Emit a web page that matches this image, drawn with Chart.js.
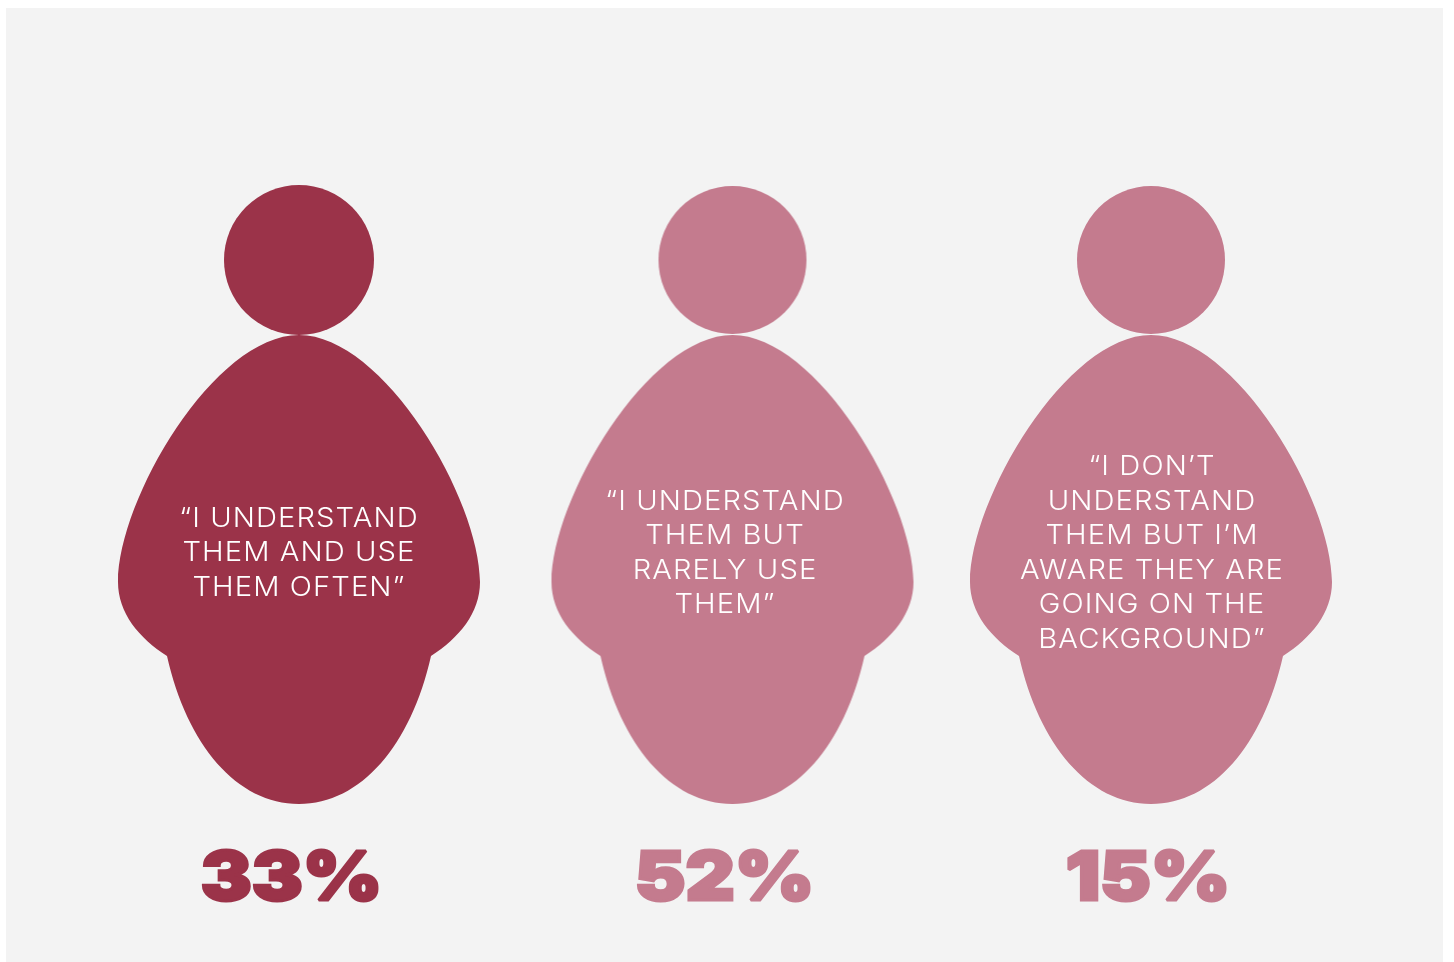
<!DOCTYPE html>
<html lang="en">
<head>
    <meta charset="UTF-8">
    <title>Do they understand them?</title>
    <script src="https://cdn.jsdelivr.net/npm/chart.js"></script>
    <style>
        html, body { margin: 0; background: #ffffff; }
        #figures { position: absolute; left: 6px; top: 8px; background: #f3f3f3; }
    </style>
</head>
<body>
    <canvas id="figures" width="1437" height="954"></canvas>
    <script>
        // chart data
        const categories = ['Use often', 'Rarely use', 'Aware only'];
        const shares = [33, 52, 15];
        const quotes = [
            ['“I UNDERSTAND', 'THEM AND USE', 'THEM OFTEN”'],
            ['“I UNDERSTAND', 'THEM BUT', 'RARELY USE', 'THEM”'],
            ['“I DON’T', 'UNDERSTAND', 'THEM BUT I’M', 'AWARE THEY ARE', 'GOING ON THE', 'BACKGROUND”']
        ];

        // layout and styling
        const slots = [0, 1.0176, 2];
        const colors = ['#9b3349', '#c47b8e', '#c47b8e'];
        const headRadius = [75, 74, 74];
        const quoteOffset = [0, 0, 1];
        const shareOffset = [-7.5, -0.5, -3];
        const figureMiddle = 495;
        const quoteMiddle = 561.4;
        const quoteLine = 34.6;
        const shareBaseline = 900;

        // person silhouette used as the point style, origin at the top of the head
        function makeFigure(color, r) {
            const c = document.createElement('canvas');
            c.width = 400;
            c.height = 640;
            const ctx = c.getContext('2d');
            ctx.translate(200, 10);
            ctx.fillStyle = color;
            ctx.beginPath();
            ctx.arc(0, 75, r, 0, Math.PI * 2);
            ctx.fill();

            ctx.beginPath();
            ctx.moveTo(0, 150);
            ctx.bezierCurveTo(85, 150, 181, 315, 181, 397);
            ctx.bezierCurveTo(181, 428, 160, 453, 132, 471);
            ctx.bezierCurveTo(112, 560, 62, 619, 0, 619);
            ctx.bezierCurveTo(-62, 619, -112, 560, -132, 471);
            ctx.bezierCurveTo(-160, 453, -181, 428, -181, 397);
            ctx.bezierCurveTo(-181, 315, -85, 150, 0, 150);
            ctx.fill();
            return c;
        }

        const labelPlugin = {
            id: 'figureLabels',
            afterDatasetsDraw(chart) {
                const { ctx, scales } = chart;
                categories.forEach((_, i) => {
                    const cx = scales.x.getPixelForValue(i);

                    // quote inside the body, a little wider than the plain face
                    ctx.save();
                    ctx.fillStyle = '#ffffff';
                    ctx.font = '350 27px Inter';
                    ctx.letterSpacing = '1px';
                    ctx.textAlign = 'center';
                    ctx.textBaseline = 'alphabetic';
                    const lines = quotes[i];
                    lines.forEach((line, n) => {
                        const y = quoteMiddle + (n - (lines.length - 1) / 2) * quoteLine;
                        ctx.save();
                        ctx.translate(cx + quoteOffset[i], scales.y.getPixelForValue(y));
                        ctx.scale(1.08, 1);
                        ctx.fillText(line, 0, 0);
                        ctx.restore();
                    });
                    ctx.restore();

                    // share below the figure, stretched wide and thickened
                    ctx.save();
                    ctx.fillStyle = colors[i];
                    ctx.strokeStyle = colors[i];
                    ctx.lineWidth = 3;
                    ctx.lineJoin = 'miter';
                    ctx.miterLimit = 2;
                    ctx.font = '900 68px Inter';
                    ctx.textAlign = 'center';
                    ctx.translate(cx + shareOffset[i], scales.y.getPixelForValue(shareBaseline));
                    ctx.scale(1.12, 1);
                    ctx.fillText(shares[i] + '%', 0, 0);
                    ctx.strokeText(shares[i] + '%', 0, 0);
                    ctx.restore();
                });
            }
        };

        const chart = new Chart(document.getElementById('figures'), {
            type: 'scatter',
            data: {
                labels: categories,
                datasets: [{
                    data: shares.map((_, i) => ({ x: slots[i], y: figureMiddle })),
                    pointStyle: colors.map((col, i) => makeFigure(col, headRadius[i])),
                    clip: false
                }]
            },
            options: {
                responsive: false,
                animation: false,
                layout: { padding: 0, autoPadding: false },
                plugins: { legend: { display: false }, tooltip: { enabled: false } },
                scales: {
                    x: { type: 'linear', display: false, min: -293 / 426, max: 1144 / 426 },
                    y: { type: 'linear', display: false, reverse: true, min: 8, max: 962 }
                }
            },
            plugins: [labelPlugin]
        });
    </script>
</body>
</html>
